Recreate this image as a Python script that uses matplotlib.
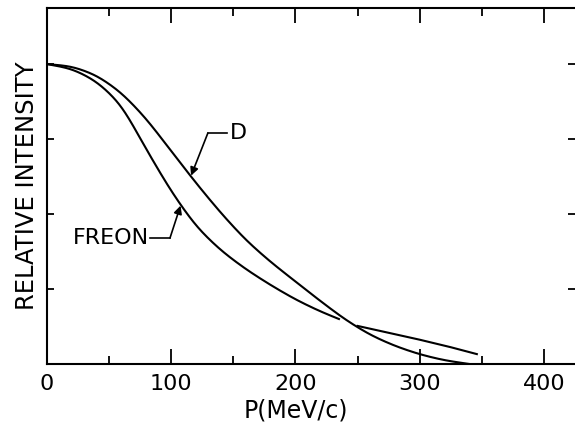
import numpy as np
import matplotlib
matplotlib.use("Agg")
import matplotlib.pyplot as plt
from matplotlib.ticker import MultipleLocator

d_p = [0, 20, 40, 60, 80, 100, 120, 140, 160, 180, 200, 220, 240, 260, 280, 300, 320, 340]
d_int = [1.0, 0.993, 0.963, 0.905, 0.818, 0.710, 0.603, 0.503, 0.413, 0.340, 0.275,
         0.210, 0.148, 0.097, 0.060, 0.032, 0.012, 0.0]

freon_p = [0, 20, 40, 60, 80, 100, 120, 140, 160, 180, 200, 220, 235]
freon_int = [1.0, 0.985, 0.943, 0.865, 0.715, 0.575, 0.458, 0.378, 0.316, 0.263, 0.215, 0.175, 0.15]

# freon tail past the crossing
tail_p = [250, 275, 300, 325, 346]
tail_int = [0.127, 0.104, 0.081, 0.056, 0.033]

xticks = [0, 100, 200, 300, 400]

plt.rcParams['font.family'] = ['DejaVu Sans']


def smooth(x, y, sigma=7.0, step=0.5):
    # dense linear interp, then gaussian smoothing (linear extension at the ends)
    xs = np.arange(x[0], x[-1] + step / 2, step)
    ys = np.interp(xs, x, y)
    k = int(3 * sigma / step)
    s0 = (ys[1] - ys[0]) / step
    s1 = (ys[-1] - ys[-2]) / step
    left = ys[0] - s0 * step * np.arange(k, 0, -1)
    right = ys[-1] + s1 * step * np.arange(1, k + 1)
    pad = np.concatenate([left, ys, right])
    g = np.exp(-0.5 * (np.arange(-k, k + 1) * step / sigma) ** 2)
    g /= g.sum()
    out = np.convolve(pad, g, mode='same')[k:-k]
    return xs, out


fig = plt.figure(figsize=(5.75, 4.32), dpi=100)
ax = fig.add_axes([0.0817, 0.1574, 0.9183, 0.8241])

lw = 1.5
xd, yd = smooth(d_p, d_int)
ax.plot(xd, np.clip(yd, 0, 1.0), color='black', lw=lw)
xf, yf = smooth(freon_p, freon_int)
ax.plot(xf, np.minimum(yf, 1.0), color='black', lw=lw)
ax.plot(tail_p, tail_int, color='black', lw=lw)

ax.set_xlim(0, 425)
ax.set_ylim(0, 1.187)

ax.set_xticks(xticks)
ax.set_xticklabels([str(t) for t in xticks])
ax.xaxis.set_minor_locator(MultipleLocator(50))
ax.yaxis.set_major_locator(MultipleLocator(0.25))
ax.set_yticklabels([])

ax.tick_params(axis='x', which='major', direction='in', length=11, width=1.3,
               top=True, bottom=True, labelsize=16, pad=7)
ax.tick_params(axis='x', which='minor', direction='in', length=6, width=1.3,
               top=True, bottom=True)
ax.tick_params(axis='y', which='major', direction='in', length=5, width=1.3,
               left=True, right=True, labelleft=False)

for s in ['left', 'bottom', 'top']:
    ax.spines[s].set_linewidth(1.5)
ax.spines['right'].set_visible(False)

ax.set_ylabel('RELATIVE INTENSITY', fontsize=17.5, labelpad=6)
ax.text(200, -0.155, 'P(MeV/c)', fontsize=17, ha='center', va='center')

# D label with elbow
ax.plot([129.5, 145], [0.77, 0.77], color='black', lw=1.2)
ax.annotate('', xy=(116.0, 0.628), xytext=(129.5, 0.77),
            arrowprops=dict(arrowstyle='-|>', color='black', lw=1.2,
                            mutation_scale=12, shrinkA=0, shrinkB=0))
ax.text(147, 0.77, 'D', fontsize=16, ha='left', va='center')

# FREON label with elbow
ax.plot([83, 99], [0.42, 0.42], color='black', lw=1.2)
ax.annotate('', xy=(107.5, 0.528), xytext=(99, 0.42),
            arrowprops=dict(arrowstyle='-|>', color='black', lw=1.2,
                            mutation_scale=12, shrinkA=0, shrinkB=0))
ax.text(82, 0.42, 'FREON', fontsize=16, ha='right', va='center')

fig.savefig('out.png', dpi=100)
